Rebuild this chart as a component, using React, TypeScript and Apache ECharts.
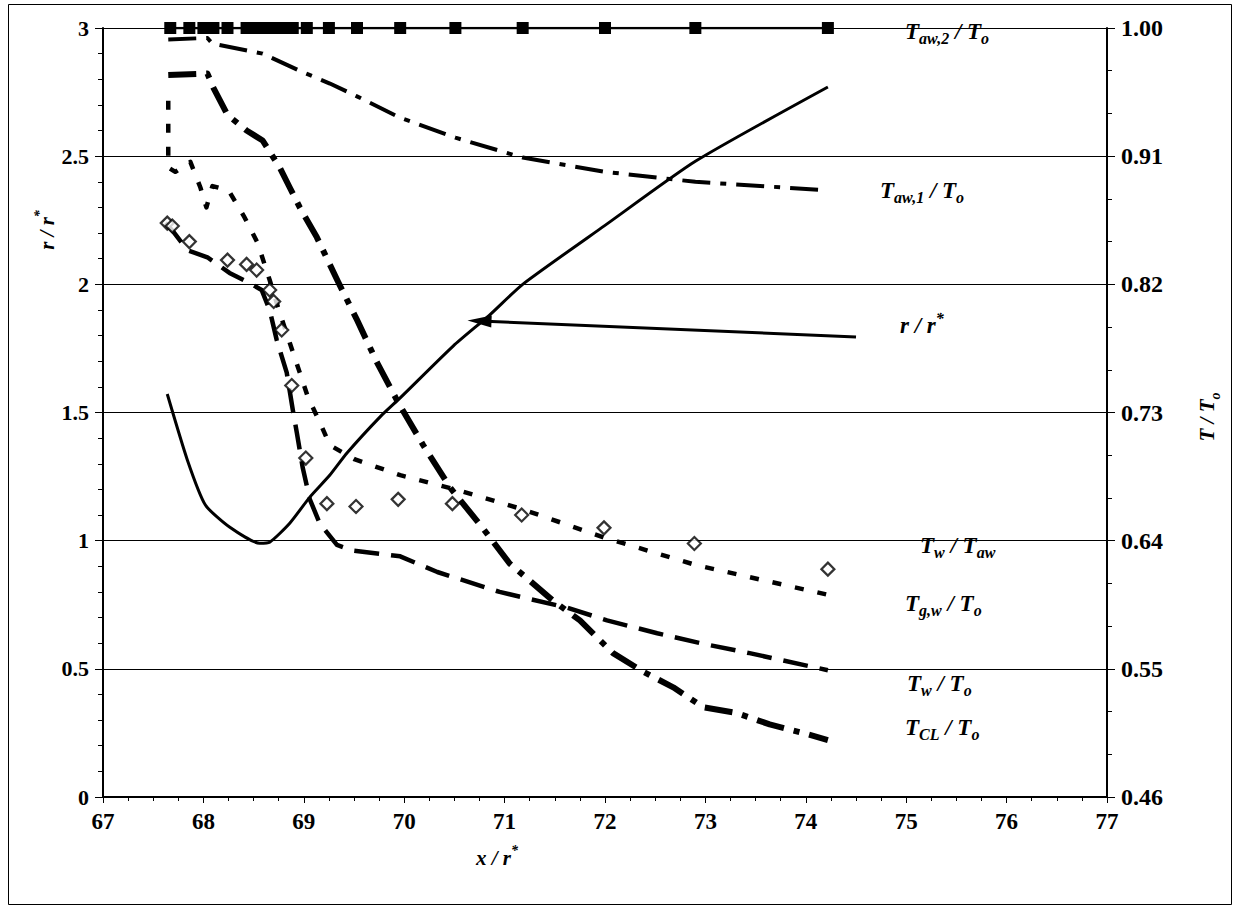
import { useEffect, useRef } from "react";
import * as echarts from "echarts";

// ---------- data ----------
const T_BASE = 0.46; // right axis starts at T/To = 0.46

// T_aw,2 / T_o  (filled squares, solid line)
const X_TAW2 = [67.67, 67.86, 68.0, 68.1, 68.24, 68.43, 68.51, 68.59, 68.66, 68.74, 68.82, 68.89, 69.03, 69.25, 69.53, 69.96, 70.51, 71.18, 72.0, 72.9, 74.22];
const T_TAW2 = [1.0, 1.0, 1.0, 1.0, 1.0, 1.0, 1.0, 1.0, 1.0, 1.0, 1.0, 1.0, 1.0, 1.0, 1.0, 1.0, 1.0, 1.0, 1.0, 1.0, 1.0];

// T_aw,1 / T_o
const X_TAW1 = [67.65, 68.04, 68.09, 68.59, 68.99, 69.26, 69.53, 69.96, 70.51, 71.18, 72.0, 72.9, 74.22];
const T_TAW1 = [0.992, 0.993, 0.989, 0.982, 0.969, 0.961, 0.952, 0.937, 0.923, 0.909, 0.899, 0.892, 0.886];

// r / r*
const X_R = [67.64, 67.84, 68.02, 68.26, 68.56, 68.66, 68.86, 69.06, 69.26, 69.43, 69.76, 69.96, 70.49, 70.85, 71.18, 72.0, 72.9, 74.22];
const R_R = [1.572, 1.315, 1.139, 1.053, 0.99, 0.994, 1.068, 1.17, 1.256, 1.342, 1.483, 1.557, 1.76, 1.88, 2.0, 2.23, 2.48, 2.77];

// T_g,w / T_o
const X_TGW = [67.65, 67.65, 67.72, 67.87, 67.97, 68.03, 68.09, 68.25, 68.41, 68.54, 68.66, 68.76, 68.86, 68.96, 69.04, 69.16, 69.26, 69.51, 69.96, 70.51, 71.18, 72.0, 72.9, 74.22];
const T_TGW = [0.949, 0.902, 0.899, 0.906, 0.888, 0.874, 0.889, 0.886, 0.867, 0.849, 0.823, 0.8, 0.779, 0.758, 0.741, 0.723, 0.707, 0.697, 0.686, 0.676, 0.662, 0.642, 0.623, 0.602];

// T_w / T_o
const X_TW = [67.62, 67.7, 67.84, 68.04, 68.26, 68.46, 68.58, 68.66, 68.73, 68.83, 68.89, 68.93, 68.99, 69.06, 69.16, 69.33, 69.49, 69.96, 70.33, 70.95, 71.62, 72.02, 72.52, 72.95, 73.44, 74.22];
const T_TW = [0.863, 0.857, 0.844, 0.839, 0.828, 0.821, 0.816, 0.802, 0.781, 0.758, 0.732, 0.716, 0.691, 0.669, 0.652, 0.637, 0.633, 0.629, 0.618, 0.604, 0.593, 0.584, 0.575, 0.568, 0.561, 0.549];

// T_CL / T_o
const X_TCL = [67.65, 68.04, 68.1, 68.24, 68.43, 68.59, 68.76, 68.86, 68.96, 69.13, 69.34, 69.53, 69.73, 69.94, 70.19, 70.46, 70.77, 71.05, 71.48, 71.75, 72.08, 72.38, 72.68, 72.98, 73.31, 73.64, 73.97, 74.22];
const T_TCL = [0.967, 0.968, 0.958, 0.939, 0.928, 0.921, 0.902, 0.888, 0.874, 0.853, 0.822, 0.795, 0.765, 0.737, 0.707, 0.677, 0.65, 0.624, 0.598, 0.584, 0.561, 0.548, 0.537, 0.523, 0.519, 0.511, 0.505, 0.5];

// T_w / T_aw (open diamonds)
const X_TWTAW = [67.64, 67.69, 67.86, 68.24, 68.43, 68.53, 68.66, 68.7, 68.78, 68.88, 69.02, 69.23, 69.52, 69.94, 70.48, 71.17, 71.99, 72.89, 74.22];
const T_TWTAW = [0.863, 0.861, 0.85, 0.837, 0.834, 0.83, 0.816, 0.808, 0.788, 0.749, 0.698, 0.666, 0.664, 0.669, 0.666, 0.658, 0.649, 0.638, 0.62];

// arrow pointing at the r/r* curve
const ARROW_FROM = [74.5, 1.795];
const ARROW_TO = [70.75, 1.857];

const X_TICKS = { min: 67, max: 77, interval: 1 };
const R_TICKS = { min: 0, max: 3, interval: 0.5 };
const T_TICKS = { min: 0, max: 0.54, interval: 0.09 };

// ---------- helpers ----------
const SERIF = "Liberation Serif";
const pairs = (xs: number[], ys: number[], base = 0) => xs.map((x, i) => [x, +(ys[i] - base).toFixed(4)]);

const makeRich = (big: number, small: number) => ({
  m: { fontFamily: SERIF, fontSize: big, fontWeight: "bold", fontStyle: "italic", lineHeight: 30, verticalAlign: "middle", color: "#000" },
  s: { fontFamily: SERIF, fontSize: small, fontWeight: "bold", fontStyle: "italic", lineHeight: small + 1, verticalAlign: "bottom", color: "#000" },
  p: { fontFamily: SERIF, fontSize: small, fontWeight: "bold", fontStyle: "italic", lineHeight: small + 1, verticalAlign: "top", color: "#000" },
});
const RICH_NOTE = makeRich(23, 16);
const RICH_TITLE = makeRich(21, 14);

const textEl = (text: string, x: number, y: number, rich: any, rotation = 0, align = "left") => ({
  type: "text",
  x,
  y,
  rotation,
  silent: true,
  style: { text, rich, textAlign: align, textVerticalAlign: "middle", fill: "#000" },
});

export default function App() {
  const ref = useRef<HTMLDivElement>(null);

  useEffect(() => {
    const chart = echarts.init(ref.current!, null, { renderer: "svg" });

    const lineBase = (name: string, data: any[], yAxisIndex: number, lineStyle: any) => ({
      name,
      type: "line",
      data,
      yAxisIndex,
      showSymbol: false,
      symbol: "none",
      lineStyle: { color: "#000", cap: "butt", join: "round", ...lineStyle },
      z: 3,
    });

    const axisFont = { color: "#000", fontFamily: SERIF, fontWeight: "bold", fontSize: 22 };

    const option: any = {
      animation: false,
      backgroundColor: "#fff",
      textStyle: { fontFamily: SERIF },
      grid: { left: 103, right: 128, top: 28, bottom: 112, containLabel: false },
      xAxis: {
        type: "value",
        ...X_TICKS,
        axisLine: { show: true, lineStyle: { color: "#000", width: 2 } },
        axisTick: { show: true, length: 6, lineStyle: { color: "#000", width: 1 } },
        minorTick: { show: true, splitNumber: 4, length: 4, lineStyle: { color: "#000", width: 1 } },
        splitLine: { show: false },
        axisLabel: { ...axisFont, fontSize: 23, margin: 13 },
      },
      yAxis: [
        {
          type: "value",
          position: "left",
          ...R_TICKS,
          axisLine: { show: true, lineStyle: { color: "#000", width: 2 } },
          axisTick: { show: true, length: 8, lineStyle: { color: "#000", width: 1 } },
          minorTick: { show: true, splitNumber: 5, length: 5, lineStyle: { color: "#000", width: 1 } },
          splitLine: { show: true, lineStyle: { color: "#000", width: 1 } },
          axisLabel: { ...axisFont, margin: 14, formatter: (v: number) => String(v) },
        },
        {
          type: "value",
          position: "right",
          ...T_TICKS,
          axisLine: { show: true, lineStyle: { color: "#000", width: 2 } },
          axisTick: { show: true, length: 8, lineStyle: { color: "#000", width: 1 } },
          minorTick: { show: true, splitNumber: 3, length: 5, lineStyle: { color: "#000", width: 1 } },
          splitLine: { show: false },
          axisLabel: { ...axisFont, fontSize: 24, margin: 14, formatter: (v: number) => (v + T_BASE).toFixed(2) },
        },
      ],
      series: [
        lineBase("Taw,1 / To", pairs(X_TAW1, T_TAW1, T_BASE), 1, { width: 4, type: [28, 10, 6, 10] }),
        lineBase("TCL / To", pairs(X_TCL, T_TCL, T_BASE), 1, { width: 6, type: [28, 10, 6, 10] }),
        lineBase("Tw / To", pairs(X_TW, T_TW, T_BASE), 1, { width: 4.5, type: [25, 12] }),
        lineBase("Tg,w / To", pairs(X_TGW, T_TGW, T_BASE), 1, { width: 4.5, type: [9, 14] }),
        {
          ...lineBase("r / r*", pairs(X_R, R_R), 0, { width: 3, type: "solid" }),
          smooth: 0.2,
          markLine: {
            silent: true,
            symbol: ["none", "triangle"],
            symbolSize: [12, 24],
            label: { show: false },
            lineStyle: { color: "#000", width: 3, type: "solid" },
            data: [[{ coord: ARROW_FROM }, { coord: ARROW_TO }]],
          },
        },
        {
          name: "Taw,2 / To",
          type: "line",
          data: pairs(X_TAW2, T_TAW2, T_BASE),
          yAxisIndex: 1,
          symbol: "rect",
          symbolSize: 12,
          itemStyle: { color: "#000" },
          lineStyle: { color: "#000", width: 2.5 },
          z: 5,
        },
        {
          name: "Tw / Taw",
          type: "scatter",
          data: pairs(X_TWTAW, T_TWTAW, T_BASE),
          yAxisIndex: 1,
          symbol: "diamond",
          symbolSize: 13,
          itemStyle: { color: "#fff", borderColor: "#000", borderWidth: 2.2 },
          z: 6,
        },
      ],
      graphic: [
        { type: "rect", silent: true, shape: { x: 8.5, y: 4.5, width: 1223, height: 900 }, style: { fill: "none", stroke: "#000", lineWidth: 1 } },
        textEl("{m|T}{s|aw,2}{m| / T}{s|o}", 905, 31, RICH_NOTE),
        textEl("{m|T}{s|aw,1}{m| / T}{s|o}", 880, 190, RICH_NOTE),
        textEl("{m|r / r}{p|*}", 900, 325, RICH_NOTE),
        textEl("{m|T}{s|w}{m| / T}{s|aw}", 920, 545, RICH_NOTE),
        textEl("{m|T}{s|g,w}{m| / T}{s|o}", 905, 603, RICH_NOTE),
        textEl("{m|T}{s|w}{m| / T}{s|o}", 907, 683, RICH_NOTE),
        textEl("{m|T}{s|CL}{m| / T}{s|o}", 905, 727, RICH_NOTE),
        textEl("{m|x / r}{p|*}", 497, 858, RICH_TITLE, 0, "center"),
        textEl("{m|r / r}{p|*}", 47, 230, RICH_TITLE, Math.PI / 2, "center"),
        textEl("{m|T / T}{s|o}", 1207, 417, RICH_TITLE, Math.PI / 2, "center"),
      ],
    };

    chart.setOption(option);
    return () => chart.dispose();
  }, []);

  return (
    <div
      ref={ref}
      style={{ position: "fixed", left: 0, top: 0, width: 1235, height: 909, background: "#fff" }}
    />
  );
}
